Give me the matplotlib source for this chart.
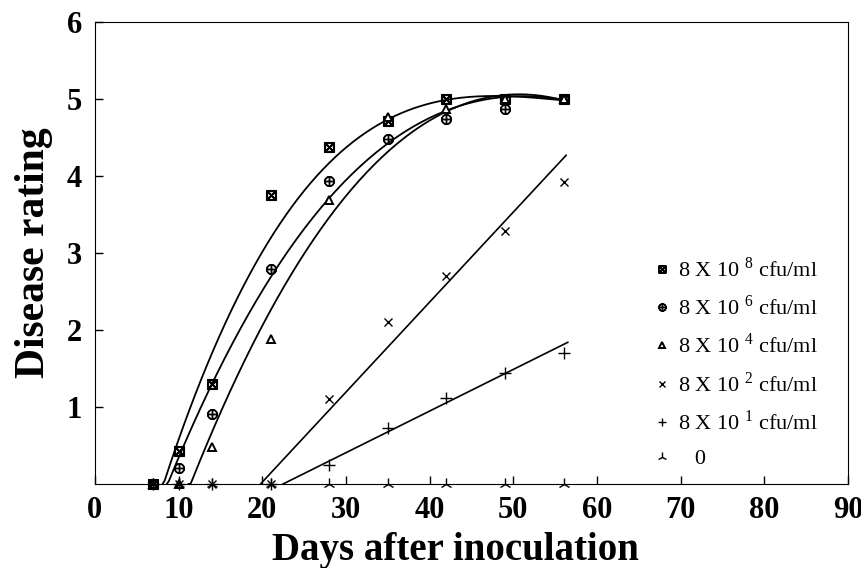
import numpy as np
import matplotlib
matplotlib.use("Agg")
import matplotlib.pyplot as plt

plt.rcParams['font.family'] = ['Liberation Serif', 'DejaVu Serif']
plt.rcParams['mathtext.fontset'] = 'custom'
plt.rcParams['mathtext.rm'] = 'Liberation Serif'

days = [7, 10, 14, 21, 28, 35, 42, 49, 56]

# observed ratings per inoculum level
r_e8 = [0, 0.43, 1.30, 3.75, 4.38, 4.71, 5.00, 5.00, 5.00]
r_e6 = [0, 0.21, 0.91, 2.79, 3.93, 4.48, 4.74, 4.87, 5.00]
r_e4 = [0, 0, 0.48, 1.88, 3.69, 4.77, 4.87, 5.00, 5.00]
r_e2 = [0, 0, 0, 0, 1.10, 2.11, 2.70, 3.29, 3.92]
r_e1 = [0, 0, 0, 0, 0.25, 0.73, 1.12, 1.44, 1.70]
r_0 = [0, 0, 0, 0, 0, 0, 0, 0, 0]

# fitted curves
fit_x_e8 = [8.1, 13.9, 21.0, 27.0, 35.2, 42.3, 49.1, 56.3]
fit_y_e8 = [0, 1.61, 3.17, 4.12, 4.77, 4.97, 5.01, 5.00]
fit_x_e6 = [8.6, 13.9, 21.0, 27.0, 35.2, 42.3, 49.1, 56.3]
fit_y_e6 = [0, 1.22, 2.72, 3.57, 4.47, 4.86, 5.00, 5.00]
fit_x_e4 = [11.2, 13.9, 21.0, 27.0, 35.2, 42.3, 49.1, 56.3]
fit_y_e4 = [0, 0.57, 2.22, 3.36, 4.36, 4.86, 5.00, 5.00]
fit_x_e2 = [19.8, 56.3]
fit_y_e2 = [0, 4.27]
fit_x_e1 = [22.5, 56.5]
fit_y_e1 = [0, 1.84]

labels = ["8 X 10 $^{8}$ cfu/ml", "8 X 10 $^{6}$ cfu/ml", "8 X 10 $^{4}$ cfu/ml",
          "8 X 10 $^{2}$ cfu/ml", "8 X 10 $^{1}$ cfu/ml", "   0"]

fig = plt.figure(figsize=(8.62, 5.68), dpi=100)
ax = fig.add_axes([0.110, 0.148, 0.874, 0.813])

def smooth(xs, ys):
    c = np.polyfit(xs, ys, 3)
    xx = np.linspace(xs[0], xs[-1], 200)
    yy = np.polyval(c, xx)
    return xx, np.clip(yy, 0, None)

for fx, fy in [(fit_x_e8, fit_y_e8), (fit_x_e6, fit_y_e6), (fit_x_e4, fit_y_e4)]:
    xx, yy = smooth(fx, fy)
    ax.plot(xx, yy, color='black', lw=1.3)
ax.plot(fit_x_e2, fit_y_e2, color='black', lw=1.2)
ax.plot(fit_x_e1, fit_y_e1, color='black', lw=1.2)

mk = dict(color='black', linestyle='none', clip_on=False)
ax.plot(days, r_e8, marker=r'$\boxtimes$', markersize=7, label=labels[0], **mk)
ax.plot(days, r_e6, marker=r'$\oplus$', markersize=7, label=labels[1], **mk)
ax.plot(days, r_e4, marker='^', markersize=6, mfc='white', mec='black', mew=1.4,
        label=labels[2], **mk)
ax.plot(days, r_e2, marker='x', markersize=6, mew=1.0, label=labels[3], **mk)
ax.plot(days, r_e1, marker='+', markersize=8, mew=1.0, label=labels[4], **mk)
ax.plot(days, r_0, marker='2', markersize=9, mew=1.0, label=labels[5], **mk)

ax.set_xlim(0, 90)
ax.set_ylim(0, 6)
ax.set_xticks(range(0, 91, 10))
ax.set_yticks([1, 2, 3, 4, 5, 6])
ax.tick_params(direction='in', length=6, width=1, labelsize=22, pad=9)
for lab in ax.get_xticklabels() + ax.get_yticklabels():
    lab.set_fontweight('bold')

ax.set_xlabel("Days after inoculation", fontsize=28, fontweight='bold')
ax.xaxis.set_label_coords(0.478, -0.104)
ax.set_ylabel("Disease rating", fontsize=30, fontweight='bold', labelpad=10)

leg = ax.legend(loc='upper left', bbox_to_anchor=(0.718, 0.535), frameon=False,
                fontsize=16, labelspacing=0.62, handlelength=0.6, handletextpad=0.4,
                markerscale=0.75)

fig.savefig("out.png", dpi=100)
